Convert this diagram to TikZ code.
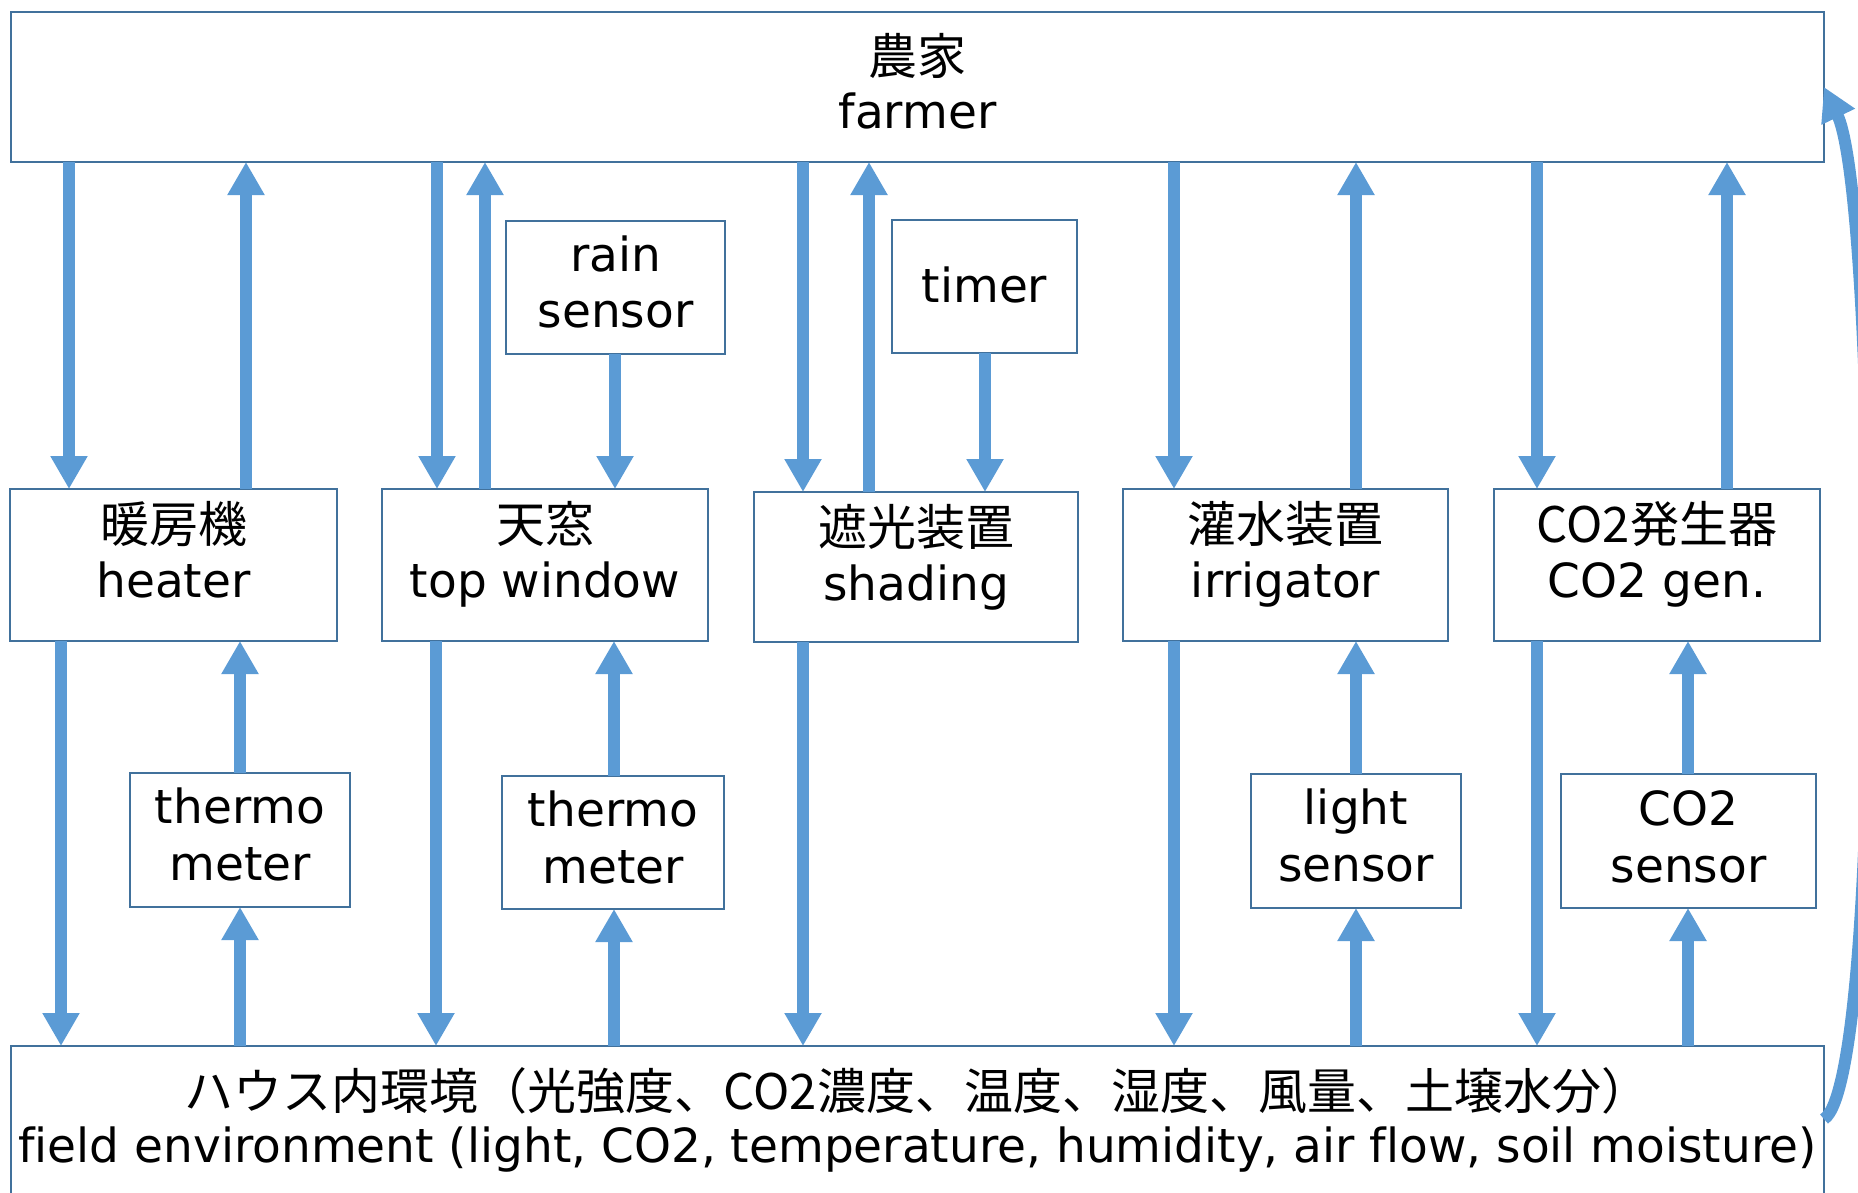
\documentclass[tikz,border=0pt]{standalone}
\usepackage{fontspec}
\setmainfont{DejaVu Sans}[Ligatures=NoCommon]
\newfontfamily\jpf{Noto Sans CJK JP}
\usetikzlibrary{arrows.meta,calc}
\definecolor{arrc}{HTML}{5B9BD5}
\definecolor{boxc}{HTML}{41719C}
\newcommand\enfont{\fontsize{23.5pt}{28pt}\selectfont}
\newcommand\jpfont{\jpf\fontsize{24.5pt}{29pt}\selectfont}
\begin{document}
\begin{tikzpicture}[x=0.5pt,y=-0.5pt,
  box/.style={draw=boxc, line width=1.25pt, fill=white, inner sep=0pt, outer sep=0pt, rectangle},
  sz/.style 2 args={minimum width={0.5pt*#1}, minimum height={0.5pt*#2}},
  en/.style={font=\enfont, anchor=base, inner sep=0pt},
  jp/.style={font=\jpfont, anchor=base, inner sep=0pt},
  arr/.style={draw=arrc, line width=6pt, -{Triangle[width=17.5pt,length=16.5pt]}}]
\useasboundingbox (0,0) rectangle (1858,1193);
% boxes
\node[box, sz={1813}{150}] (farmer) at (917.5,87) {};
\node[box, sz={1813}{194}] (field) at (917.5,1143) {};
\node[box, sz={327}{152}] (heater) at (173.5,565) {};
\node[box, sz={326}{152}] (window) at (545,565) {};
\node[box, sz={324}{150}] (shading) at (916,567) {};
\node[box, sz={325}{152}] (irrig) at (1285.5,565) {};
\node[box, sz={326}{152}] (cotwogen) at (1657,565) {};
\node[box, sz={219}{133}] (rain) at (615.5,287.5) {};
\node[box, sz={185}{133}] (timer) at (984.5,286.5) {};
\node[box, sz={220}{134}] (thermoA) at (240,840) {};
\node[box, sz={222}{133}] (thermoB) at (613,842.5) {};
\node[box, sz={210}{134}] (light) at (1356,841) {};
\node[box, sz={255}{134}] (cotwosens) at (1688.5,841) {};
% texts
\node[jp] (farmerJ) at ($(farmer.north)+(0,63)$) {農家};
\node[en] (farmerE) at ($(farmer.north)+(0,116)$) {farmer};
\node[jp] (fieldJ) at ($(field.north)+(0,63)$) {ハウス内環境（光強度、CO2濃度、温度、湿度、風量、土壌水分）};
\node[en] (fieldE) at ($(field.north)+(0,116)$) {field environment (light, CO2, temperature, humidity, air flow, soil moisture)};
\node[jp] (heaterJ) at ($(heater.north)+(0,53)$) {暖房機};
\node[en] (heaterE) at ($(heater.north)+(0,108)$) {heater};
\node[jp] (windowJ) at ($(window.north)+(0,53)$) {天窓};
\node[en] (windowE) at ($(window.north)+(0,108)$) {top window};
\node[jp] (shadingJ) at ($(shading.north)+(0,53)$) {遮光装置};
\node[en] (shadingE) at ($(shading.north)+(0,108)$) {shading};
\node[jp] (irrigJ) at ($(irrig.north)+(0,53)$) {灌水装置};
\node[en] (irrigE) at ($(irrig.north)+(0,108)$) {irrigator};
\node[jp] (cotwogenJ) at ($(cotwogen.north)+(0,53)$) {CO2発生器};
\node[en] (cotwogenE) at ($(cotwogen.north)+(0,108)$) {CO2 gen.};
\node[en] (rainA) at ($(rain.north)+(0,50)$) {rain};
\node[en] (rainB) at ($(rain.north)+(0,106)$) {sensor};
\node[en] (timerA) at ($(timer.north)+(0,82)$) {timer};
\node[en] (thermoAa) at ($(thermoA.north)+(0,50)$) {thermo};
\node[en] (thermoAb) at ($(thermoA.north)+(0,107)$) {meter};
\node[en] (thermoBa) at ($(thermoB.north)+(0,50)$) {thermo};
\node[en] (thermoBb) at ($(thermoB.north)+(0,107)$) {meter};
\node[en] (lightA) at ($(light.north)+(0,50)$) {light};
\node[en] (lightB) at ($(light.north)+(0,107)$) {sensor};
\node[en] (cotwosensA) at ($(cotwosens.north)+(0,51)$) {CO2};
\node[en] (cotwosensB) at ($(cotwosens.north)+(0,108)$) {sensor};
% columns
\coordinate (c1) at (69,0);   \coordinate (c2) at (246,0);
\coordinate (c3) at (437,0);  \coordinate (c4) at (485,0);  \coordinate (c5) at (615,0);
\coordinate (c6) at (803,0);  \coordinate (c7) at (869,0);  \coordinate (c8) at (985,0);
\coordinate (c9) at (1174,0); \coordinate (c10) at (1356,0);
\coordinate (c11) at (1537,0); \coordinate (c12) at (1727,0);
\coordinate (d1) at (61,0);   \coordinate (d2) at (240,0);
\coordinate (d3) at (436,0);  \coordinate (d4) at (614,0);
\coordinate (d9) at (1688,0);
% upper arrows
\draw[arr] (farmer.south -| c1) -- (heater.north -| c1);
\draw[arr] (heater.north -| c2) -- (farmer.south -| c2);
\draw[arr] (farmer.south -| c3) -- (window.north -| c3);
\draw[arr] (window.north -| c4) -- (farmer.south -| c4);
\draw[arr] (rain.south -| c5) -- (window.north -| c5);
\draw[arr] (farmer.south -| c6) -- (shading.north -| c6);
\draw[arr] (shading.north -| c7) -- (farmer.south -| c7);
\draw[arr] (timer.south -| c8) -- (shading.north -| c8);
\draw[arr] (farmer.south -| c9) -- (irrig.north -| c9);
\draw[arr] (irrig.north -| c10) -- (farmer.south -| c10);
\draw[arr] (farmer.south -| c11) -- (cotwogen.north -| c11);
\draw[arr] (cotwogen.north -| c12) -- (farmer.south -| c12);
% lower arrows
\draw[arr] (heater.south -| d1) -- (field.north -| d1);
\draw[arr] (thermoA.north -| d2) -- (heater.south -| d2);
\draw[arr] (field.north -| d2) -- (thermoA.south -| d2);
\draw[arr] (window.south -| d3) -- (field.north -| d3);
\draw[arr] (thermoB.north -| d4) -- (window.south -| d4);
\draw[arr] (field.north -| d4) -- (thermoB.south -| d4);
\draw[arr] (shading.south -| c6) -- (field.north -| c6);
\draw[arr] (irrig.south -| c9) -- (field.north -| c9);
\draw[arr] (light.north -| c10) -- (irrig.south -| c10);
\draw[arr] (field.north -| c10) -- (light.south -| c10);
\draw[arr] (cotwogen.south -| c11) -- (field.north -| c11);
\draw[arr] (cotwosens.north -| d9) -- (cotwogen.south -| d9);
\draw[arr] (field.north -| d9) -- (cotwosens.south -| d9);
% feedback curve
\coordinate (fe) at ($(field.north east)+(0,73)$);
\draw[arr] (fe) .. controls (1885,1080) and (1878,200) .. (farmer.east);
\end{tikzpicture}
\end{document}
